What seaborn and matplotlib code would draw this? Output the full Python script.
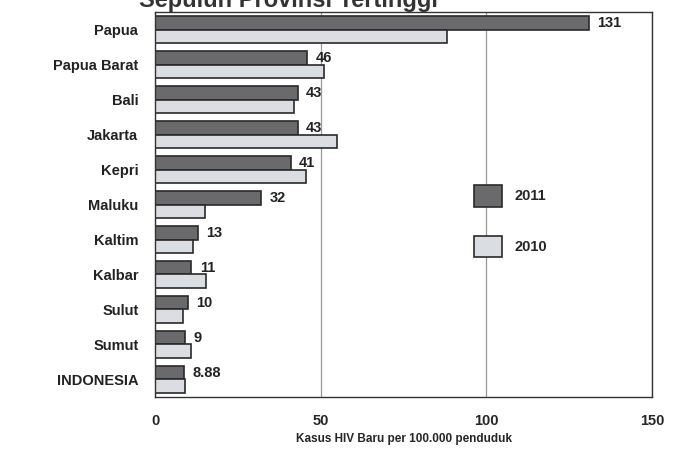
import matplotlib
matplotlib.use("Agg")
import matplotlib.pyplot as plt
import seaborn as sns
import pandas as pd

provinces = ["Papua", "Papua Barat", "Bali", "Jakarta", "Kepri", "Maluku",
             "Kaltim", "Kalbar", "Sulut", "Sumut", "INDONESIA"]
values_2011 = [131, 46, 43, 43, 41, 32, 13, 11, 10, 9, 8.88]
values_2010 = [88, 51, 42, 55, 45.5, 15, 11.5, 15.5, 8.5, 11, 9]
labels_2011 = ["131", "46", "43", "43", "41", "32", "13", "11", "10", "9", "8.88"]
xticks = [0, 50, 100, 150]

df = pd.DataFrame({
    "prov": provinces * 2,
    "val": values_2011 + values_2010,
    "year": ["2011"] * len(provinces) + ["2010"] * len(provinces),
})

sns.set_style("white")
plt.rcParams["font.family"] = ["Liberation Sans", "DejaVu Sans"]

fig = plt.figure(figsize=(6.8, 4.49), dpi=100)
ax = fig.add_axes([0.228, 0.116, 0.731, 0.857])

sns.barplot(data=df, x="val", y="prov", hue="year", hue_order=["2011", "2010"],
            order=provinces, orient="h", width=0.76,
            palette={"2011": "#6a6a6c", "2010": "#d9dce3"},
            edgecolor="#2a2a2a", linewidth=1.2, ax=ax)

ax.bar_label(ax.containers[0], labels=labels_2011, padding=6,
             fontsize=10.5, fontweight="bold", color="#222222")

ax.set_xlim(0, 150)
ax.set_xticks(xticks)
ax.set_xticklabels([str(t) for t in xticks], fontsize=10.5, fontweight="bold")
for t in ax.get_yticklabels():
    t.set_fontweight("bold")
    t.set_fontsize(10.5)
    t.set_color("#222222")
ax.tick_params(axis="x", length=4, width=1, color="#555555", pad=8)
ax.tick_params(axis="y", length=0, pad=12)
ax.grid(axis="x", color="#999999", linewidth=0.9)
ax.grid(axis="y", visible=False)
ax.set_axisbelow(True)
for s in ax.spines.values():
    s.set_color("#333333")
    s.set_linewidth(1.0)

ax.set_ylabel("")
ax.set_xlabel("Kasus HIV Baru per 100.000 penduduk", fontsize=8.5,
              fontweight="bold", labelpad=4)

ax.legend(loc="upper left", bbox_to_anchor=(0.615, 0.585), frameon=False,
          prop={"weight": "bold", "size": 10.5},
          handlelength=1.9, handleheight=1.9, labelspacing=2.0,
          handletextpad=0.9)

fig.text(0.205, 1.0, "Sepuluh Provinsi Tertinggi", fontsize=17,
         fontweight="bold", va="center", ha="left", color="#333333")

fig.savefig("out.png", dpi=100)
